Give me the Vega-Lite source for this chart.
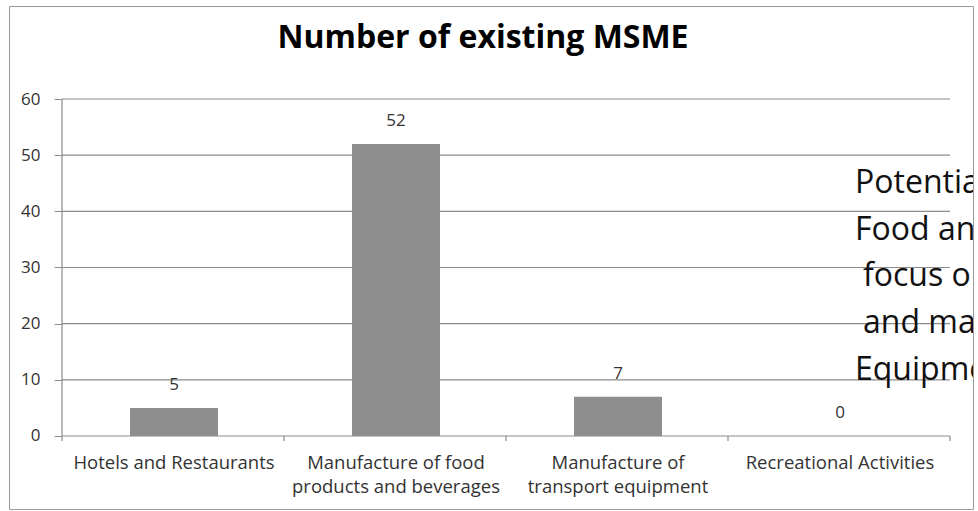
{
  "$schema": "https://vega.github.io/schema/vega-lite/v6.json",
  "autosize": {"type": "none"},
  "width": 964,
  "height": 503,
  "padding": {"left": 9, "top": 6, "right": 5, "bottom": 2},
  "background": "white",
  "title": {
    "text": "Number of existing MSME",
    "font": "Open Sans",
    "fontSize": 32,
    "fontWeight": "bold",
    "color": "#000000",
    "anchor": "middle",
    "baseline": "alphabetic",
    "offset": -74,
    "dx": -8
  },
  "config": {
    "view": {"stroke": "#9a9a9a", "strokeWidth": 1},
    "font": "Open Sans"
  },
  "datasets": {
    "msme": [
      {"sector": "Hotels and Restaurants", "count": 5},
      {"sector": "Manufacture of food products and beverages", "count": 52},
      {"sector": "Manufacture of transport equipment", "count": 7},
      {"sector": "Recreational Activities", "count": 0}
    ],
    "grid": [{"v": 0}, {"v": 10}, {"v": 20}, {"v": 30}, {"v": 40}, {"v": 50}, {"v": 60}],
    "cells": [{"c": 0}, {"c": 1}, {"c": 2}, {"c": 3}, {"c": 4}],
    "noteTop": [{"note": ["Potential", "Food and"]}],
    "noteMid": [{"note": ["focus on", "and manufacturing"]}],
    "noteEnd": [{"note": "Equipment"}]
  },
  "layer": [
    {
      "layer": [
        {
          "data": {"name": "grid"},
          "mark": {"type": "rule", "color": "#8c8c8c", "strokeWidth": 1.2},
          "encoding": {
            "x": {"datum": 0, "type": "quantitative", "scale": {"domain": [-0.23874, 4.1036], "nice": false, "zero": false}, "axis": null},
            "x2": {"datum": 4},
            "y": {
              "field": "v",
              "type": "quantitative",
              "scale": {"domain": [-13.0, 76.56], "nice": false, "zero": false},
              "axis": {
                "orient": "left",
                "offset": -53,
                "values": [0, 10, 20, 30, 40, 50, 60],
                "domain": false,
                "grid": false,
                "tickSize": 8,
                "tickColor": "#8c8c8c",
                "labelPadding": 14,
                "labelFont": "Open Sans",
                "labelFontSize": 17,
                "labelColor": "#333333",
                "title": null
              }
            }
          }
        },
        {
          "data": {"values": [{}]},
          "mark": {"type": "rule", "color": "#8c8c8c", "strokeWidth": 1.2},
          "encoding": {
            "x": {"datum": 0, "type": "quantitative"},
            "y": {"datum": 0, "type": "quantitative"},
            "y2": {"datum": 60}
          }
        },
        {
          "data": {"name": "cells"},
          "mark": {"type": "rule", "color": "#8c8c8c", "strokeWidth": 1.2},
          "encoding": {
            "x": {"field": "c", "type": "quantitative"},
            "y": {"datum": 0, "type": "quantitative"},
            "y2": {"datum": -0.9}
          }
        }
      ]
    },
    {
      "data": {"name": "msme"},
      "encoding": {
        "x": {
          "field": "sector",
          "type": "nominal",
          "sort": null,
          "scale": {"paddingInner": 0.6036, "paddingOuter": 0.47297, "align": 0.5762},
          "axis": {
            "orient": "bottom",
            "offset": -73,
            "domain": false,
            "ticks": false,
            "tickSize": 0,
            "labelPadding": 32,
            "labelBaseline": "alphabetic",
            "labelLineHeight": 24,
            "labelFont": "Open Sans",
            "labelFontSize": 18.5,
            "labelColor": "#333333",
            "labelAngle": 0,
            "labelLimit": 0,
            "labelOverlap": false,
            "title": null,
            "labelExpr": "datum.value == 'Manufacture of food products and beverages' ? ['Manufacture of food', 'products and beverages'] : datum.value == 'Manufacture of transport equipment' ? ['Manufacture of', 'transport equipment'] : datum.label"
          }
        }
      },
      "layer": [
        {
          "mark": {"type": "bar", "color": "#8e8e8e"},
          "encoding": {
            "y": {"field": "count", "type": "quantitative"},
            "y2": {"datum": 0}
          }
        },
        {
          "mark": {"type": "text", "dy": -23, "fontSize": 17, "color": "#333333", "font": "Open Sans"},
          "encoding": {
            "y": {"field": "count", "type": "quantitative"},
            "text": {"field": "count", "type": "quantitative"}
          }
        },
        {
          "data": {"name": "noteTop"},
          "mark": {
            "type": "text",
            "align": "left",
            "baseline": "alphabetic",
            "dx": 15,
            "fontSize": 32,
            "lineHeight": 46.8,
            "color": "#111111",
            "font": "Open Sans",
            "clip": true
          },
          "encoding": {
            "x": {"datum": "Recreational Activities", "type": "nominal"},
            "y": {"datum": 43.26, "type": "quantitative"},
            "text": {"field": "note"}
          }
        },
        {
          "data": {"name": "noteMid"},
          "mark": {
            "type": "text",
            "align": "left",
            "baseline": "alphabetic",
            "dx": 23,
            "fontSize": 32,
            "lineHeight": 46.8,
            "color": "#111111",
            "font": "Open Sans",
            "clip": true
          },
          "encoding": {
            "x": {"datum": "Recreational Activities", "type": "nominal"},
            "y": {"datum": 26.71, "type": "quantitative"},
            "text": {"field": "note"}
          }
        },
        {
          "data": {"name": "noteEnd"},
          "mark": {
            "type": "text",
            "align": "left",
            "baseline": "alphabetic",
            "dx": 15,
            "fontSize": 32,
            "color": "#111111",
            "font": "Open Sans",
            "clip": true
          },
          "encoding": {
            "x": {"datum": "Recreational Activities", "type": "nominal"},
            "y": {"datum": 9.97, "type": "quantitative"},
            "text": {"field": "note", "type": "nominal"}
          }
        }
      ]
    }
  ],
  "resolve": {"scale": {"x": "independent"}}
}
